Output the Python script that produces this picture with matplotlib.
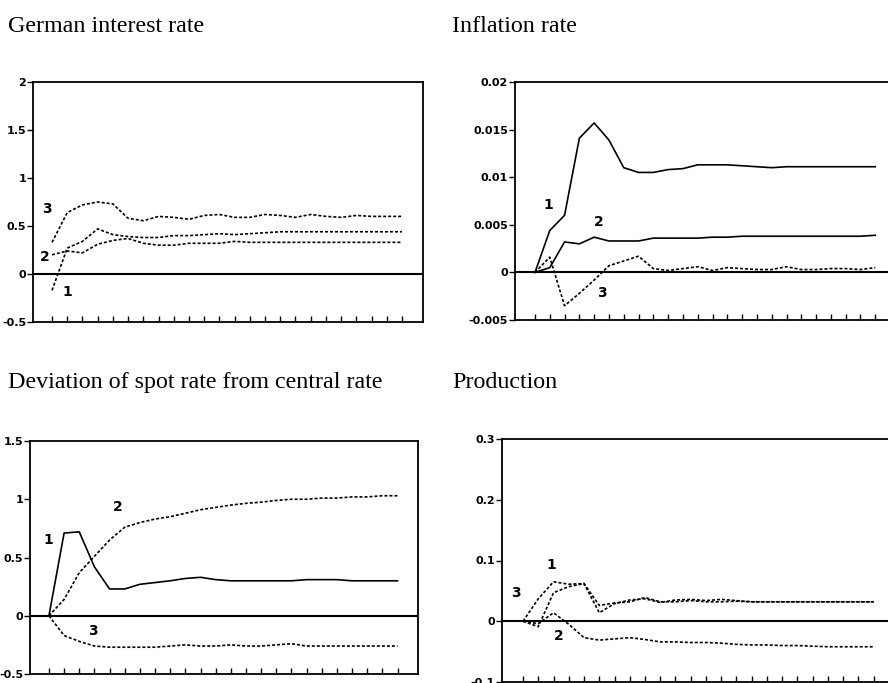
import numpy as np
import matplotlib
matplotlib.use("Agg")
import matplotlib.pyplot as plt

plt.rcParams['axes.unicode_minus'] = False

W, H = 888, 683

# periods 0..23
periods = list(range(24))

# German interest rate (all dotted)
gir_1 = [-0.17, 0.27, 0.34, 0.47, 0.41, 0.39, 0.38, 0.38, 0.40, 0.40, 0.41, 0.42,
         0.41, 0.42, 0.43, 0.44, 0.44, 0.44, 0.44, 0.44, 0.44, 0.44, 0.44, 0.44]
gir_2 = [0.20, 0.24, 0.22, 0.31, 0.35, 0.37, 0.32, 0.30, 0.30, 0.32, 0.32, 0.32,
         0.34, 0.33, 0.33, 0.33, 0.33, 0.33, 0.33, 0.33, 0.33, 0.33, 0.33, 0.33]
gir_3 = [0.33, 0.64, 0.72, 0.75, 0.73, 0.58, 0.555, 0.60, 0.59, 0.57, 0.61, 0.62,
         0.59, 0.59, 0.62, 0.61, 0.59, 0.62, 0.60, 0.59, 0.61, 0.60, 0.60, 0.60]

# Inflation rate
inf_1 = [0, 0.0044, 0.0060, 0.0141, 0.0157, 0.0139, 0.0110, 0.0105, 0.0105, 0.0108,
         0.0109, 0.0113, 0.0113, 0.0113, 0.0112, 0.0111, 0.0110, 0.0111, 0.0111,
         0.0111, 0.0111, 0.0111, 0.0111, 0.0111]
inf_2 = [0, 0.0005, 0.0032, 0.0030, 0.0037, 0.0033, 0.0033, 0.0033, 0.0036, 0.0036,
         0.0036, 0.0036, 0.0037, 0.0037, 0.0038, 0.0038, 0.0038, 0.0038, 0.0038,
         0.0038, 0.0038, 0.0038, 0.0038, 0.0039]
inf_3 = [0, 0.0016, -0.0035, -0.0022, -0.0008, 0.0007, 0.0012, 0.0017, 0.0004, 0.0002,
         0.0004, 0.0006, 0.0002, 0.0005, 0.0004, 0.0003, 0.0003, 0.0006, 0.0003,
         0.0003, 0.0004, 0.0004, 0.0003, 0.0005]

# Deviation of spot rate from central rate
dev_1 = [0, 0.71, 0.72, 0.42, 0.23, 0.23, 0.27, 0.285, 0.30, 0.32, 0.33, 0.31,
         0.30, 0.30, 0.30, 0.30, 0.30, 0.31, 0.31, 0.31, 0.30, 0.30, 0.30, 0.30]
dev_2 = [0, 0.14, 0.37, 0.51, 0.65, 0.76, 0.80, 0.83, 0.85, 0.88, 0.91, 0.93,
         0.95, 0.965, 0.975, 0.99, 1.0, 1.0, 1.01, 1.01, 1.02, 1.02, 1.03, 1.03]
dev_3 = [0, -0.17, -0.22, -0.26, -0.27, -0.27, -0.27, -0.27, -0.26, -0.25, -0.26, -0.26,
         -0.25, -0.26, -0.26, -0.25, -0.24, -0.26, -0.26, -0.26, -0.26, -0.26, -0.26, -0.26]

# Production (all dotted)
prod_1 = [0, 0.037, 0.065, 0.061, 0.062, 0.014, 0.029, 0.035, 0.037, 0.031, 0.035, 0.036,
          0.034, 0.036, 0.034, 0.032, 0.032, 0.032, 0.032, 0.032, 0.032, 0.032, 0.032, 0.032]
prod_2 = [0, -0.004, 0.014, -0.005, -0.027, -0.031, -0.029, -0.027, -0.030, -0.034, -0.034,
          -0.035, -0.035, -0.036, -0.038, -0.039, -0.039, -0.040, -0.040, -0.041, -0.042,
          -0.042, -0.042, -0.042]
prod_3 = [0, -0.009, 0.047, 0.057, 0.062, 0.026, 0.030, 0.032, 0.039, 0.032, 0.032, 0.034,
          0.032, 0.032, 0.033, 0.032, 0.032, 0.032, 0.032, 0.032, 0.032, 0.032, 0.032, 0.032]

titles = ["German interest rate", "Inflation rate",
          "Deviation of spot rate from central rate", "Production"]

gir_ticks = [-0.5, 0, 0.5, 1, 1.5, 2]
gir_labels = ["-0.5", "0", "0.5", "1", "1.5", "2"]
inf_ticks = [-0.005, 0, 0.005, 0.01, 0.015, 0.02]
inf_labels = ["-0.005", "0", "0.005", "0.01", "0.015", "0.02"]
dev_ticks = [-0.5, 0, 0.5, 1, 1.5]
dev_labels = ["-0.5", "0", "0.5", "1", "1.5"]
prod_ticks = [-0.1, 0, 0.1, 0.2, 0.3]
prod_labels = ["-0.1", "0", "0.1", "0.2", "0.3"]

SOLID = '-'
DOT = (0, (1.8, 1.2))
tick_font = dict(family='DejaVu Sans', weight='bold', size=8)


def px_axes(fig, left, top, width, height):
    return fig.add_axes([left / W, 1 - (top + height) / H, width / W, height / H])


def panel(ax, series, styles, labels, label_pos, ticks, ticklabels, xlim):
    for y, ls in zip(series, styles):
        ax.plot(periods, y, color='black', lw=1.2, linestyle=ls)
    ax.axhline(0, color='black', lw=1.5)
    for lab, (x, y) in zip(labels, label_pos):
        ax.text(x, y, lab, ha='center', va='center', fontsize=10,
                family='DejaVu Sans', weight='bold')
    ax.set_xlim(*xlim)
    ax.set_ylim(ticks[0], ticks[-1])
    ax.set_xticks(periods)
    ax.set_xticklabels([])
    ax.tick_params(axis='x', direction='in', length=4, width=1.0)
    ax.set_yticks(ticks)
    ax.set_yticklabels(ticklabels, **tick_font)
    ax.tick_params(axis='y', direction='out', length=4, width=1.0, pad=1)
    for s in ax.spines.values():
        s.set_linewidth(1.3)


fig = plt.figure(figsize=(W / 100, H / 100), dpi=100)

ax1 = px_axes(fig, 33, 82, 390, 240)
panel(ax1, [gir_1, gir_2, gir_3], [DOT, DOT, DOT], ["1", "2", "3"],
      [(1.0, -0.19), (-0.5, 0.18), (-0.33, 0.68)],
      gir_ticks, gir_labels, (-1.25, 24.38))

ax2 = px_axes(fig, 515, 82, 381, 238)
panel(ax2, [inf_1, inf_2, inf_3], [SOLID, SOLID, DOT], ["1", "2", "3"],
      [(0.9, 0.0071), (4.3, 0.0053), (4.5, -0.0022)],
      inf_ticks, inf_labels, (-1.35, 24.4))

ax3 = px_axes(fig, 30, 441, 388, 233)
panel(ax3, [dev_1, dev_2, dev_3], [SOLID, DOT, DOT], ["1", "2", "3"],
      [(-0.07, 0.65), (4.55, 0.93), (2.9, -0.13)],
      dev_ticks, dev_labels, (-1.25, 24.35))

ax4 = px_axes(fig, 502, 439, 393, 243)
panel(ax4, [prod_1, prod_2, prod_3], [DOT, DOT, DOT], ["1", "2", "3"],
      [(1.83, 0.092), (2.36, -0.025), (-0.46, 0.046)],
      prod_ticks, prod_labels, (-1.38, 24.4))

title_pos = [(8, 32), (452, 32), (8, 388), (452, 388)]
for t, (x, y) in zip(titles, title_pos):
    fig.text(x / W, 1 - y / H, t, ha='left', va='baseline',
             family='Liberation Serif', fontsize=17.3)

fig.savefig("out.png", dpi=100)
